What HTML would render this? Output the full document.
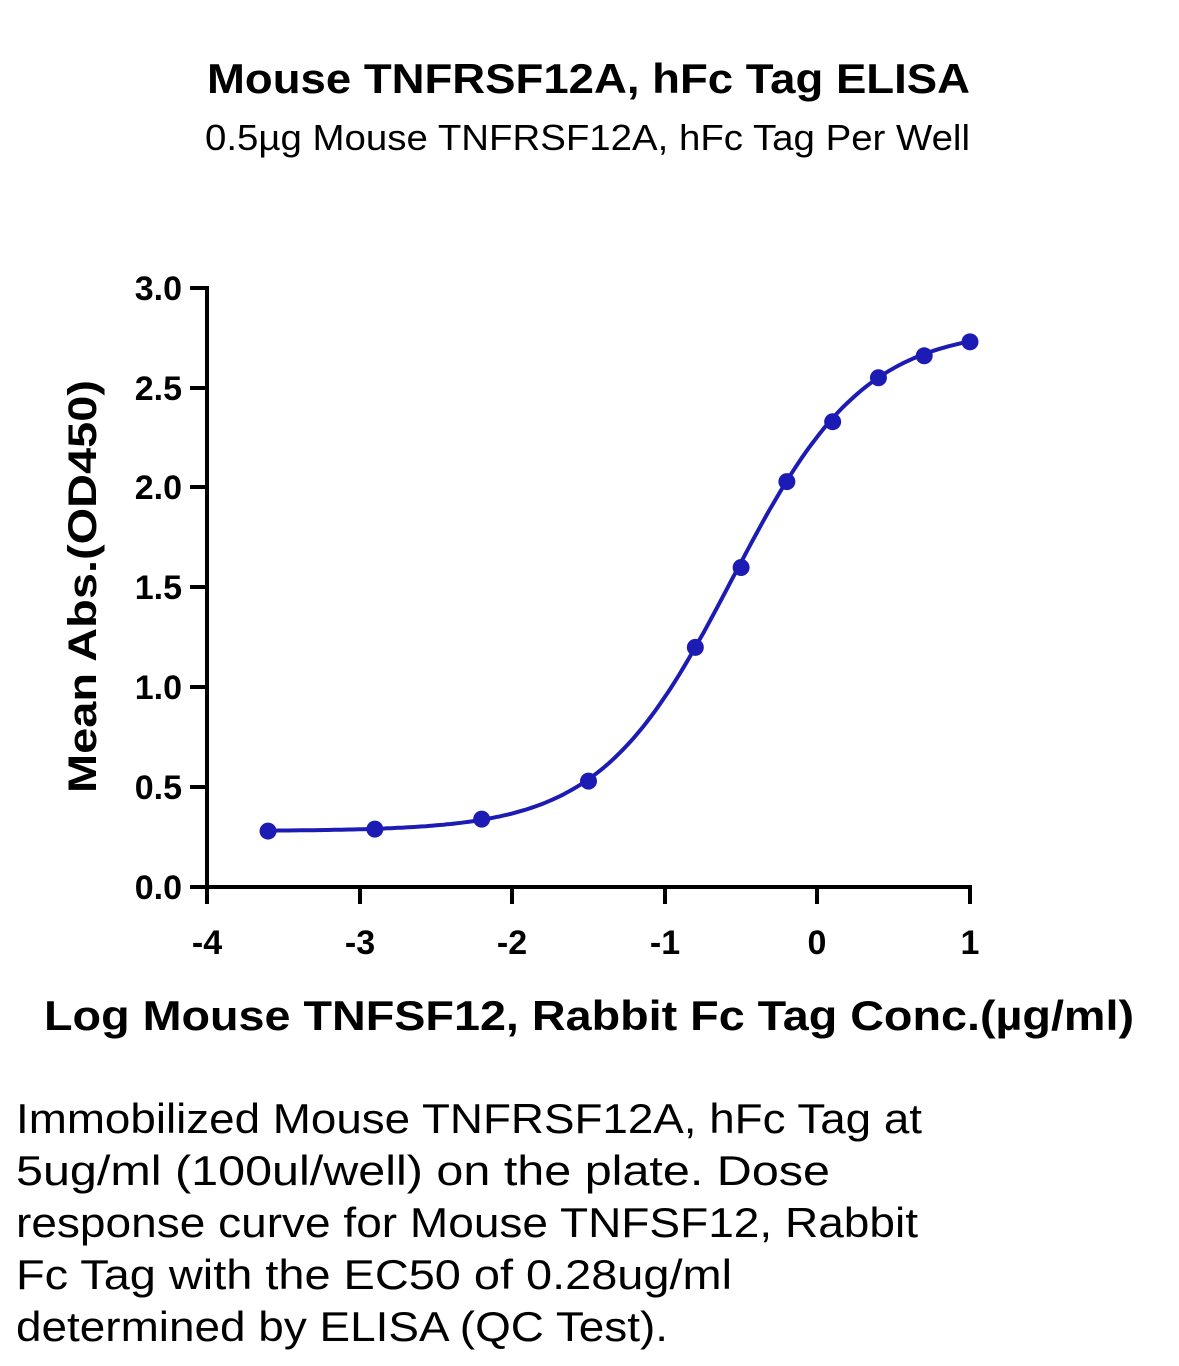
<!DOCTYPE html>
<html><head><meta charset="utf-8"><style>
body{margin:0;width:1179px;height:1366px;background:#fff;font-family:"Liberation Sans",sans-serif;overflow:hidden}
</style></head><body>
<svg width="1179" height="1366" xmlns="http://www.w3.org/2000/svg" style="position:absolute;left:0;top:0">
<text x="207" y="93" textLength="763" lengthAdjust="spacingAndGlyphs" font-size="42" font-weight="bold" font-family="Liberation Sans">Mouse TNFRSF12A, hFc Tag ELISA</text>
<text x="205" y="150" textLength="765" lengthAdjust="spacingAndGlyphs" font-size="36" font-family="Liberation Sans">0.5µg Mouse TNFRSF12A, hFc Tag Per Well</text>
<g stroke="#000" stroke-width="4" fill="none">
<line x1="207" y1="286" x2="207" y2="889"/>
<line x1="205" y1="887" x2="972" y2="887"/>
<line x1="190" y1="288" x2="207" y2="288"/>
<line x1="190" y1="388" x2="207" y2="388"/>
<line x1="190" y1="487" x2="207" y2="487"/>
<line x1="190" y1="587" x2="207" y2="587"/>
<line x1="190" y1="687" x2="207" y2="687"/>
<line x1="190" y1="787" x2="207" y2="787"/>
<line x1="190" y1="887" x2="207" y2="887"/>
<line x1="207" y1="887" x2="207" y2="904"/>
<line x1="360" y1="887" x2="360" y2="904"/>
<line x1="512" y1="887" x2="512" y2="904"/>
<line x1="665" y1="887" x2="665" y2="904"/>
<line x1="817" y1="887" x2="817" y2="904"/>
<line x1="970" y1="887" x2="970" y2="904"/>
</g>
<g font-size="34" font-weight="bold" text-anchor="end" font-family="Liberation Sans">
<text x="182" y="300">3.0</text><text x="182" y="400">2.5</text><text x="182" y="499">2.0</text>
<text x="182" y="599">1.5</text><text x="182" y="699">1.0</text><text x="182" y="799">0.5</text><text x="182" y="899">0.0</text>
</g>
<g font-size="34" font-weight="bold" text-anchor="middle" font-family="Liberation Sans">
<text x="207" y="954">-4</text><text x="360" y="954">-3</text><text x="512" y="954">-2</text>
<text x="665" y="954">-1</text><text x="817" y="954">0</text><text x="970" y="954">1</text>
</g>
<text transform="translate(96,793) rotate(-90)" textLength="413" lengthAdjust="spacingAndGlyphs" font-size="40" font-weight="bold" font-family="Liberation Sans">Mean Abs.(OD450)</text>
<text x="44" y="1030" textLength="1090" lengthAdjust="spacingAndGlyphs" font-size="42" font-weight="bold" font-family="Liberation Sans">Log Mouse TNFSF12, Rabbit Fc Tag Conc.(µg/ml)</text>
<path id="c" fill="none" stroke="#1c1cb4" stroke-width="4"/>
<g id="pts" fill="#1c1cb4"></g>
<g font-size="42" font-family="Liberation Sans" lengthAdjust="spacingAndGlyphs">
<text x="16" y="1133" textLength="906" lengthAdjust="spacingAndGlyphs">Immobilized Mouse TNFRSF12A, hFc Tag at</text>
<text x="16" y="1185" textLength="814" lengthAdjust="spacingAndGlyphs">5ug/ml (100ul/well) on the plate. Dose</text>
<text x="16" y="1237" textLength="902" lengthAdjust="spacingAndGlyphs">response curve for Mouse TNFSF12, Rabbit</text>
<text x="16" y="1289" textLength="716" lengthAdjust="spacingAndGlyphs">Fc Tag with the EC50 of 0.28ug/ml</text>
<text x="16" y="1341" textLength="652" lengthAdjust="spacingAndGlyphs">determined by ELISA (QC Test).</text>
</g>
</svg>
<script>
function X(v){return 207+(v+4)*152.6}
function Y(v){return 887-v*199.7}
function f(x){return 0.28+2.52/(1+Math.pow(10,(-0.56-x)*1.0))}
var d="";
for(var i=0;i<=200;i++){var x=-3.6+4.6*i/200;d+=(i?"L":"M")+X(x).toFixed(1)+","+Y(f(x)).toFixed(1);}
document.getElementById("c").setAttribute("d",d);
var p=[[-3.6,0.28],[-2.9,0.29],[-2.2,0.34],[-1.5,0.53],[-0.8,1.20],[-0.5,1.60],[-0.2,2.03],[0.1,2.33],[0.4,2.55],[0.7,2.66],[1.0,2.73]];
var g=document.getElementById("pts"),s="";
p.forEach(function(q){s+='<circle cx="'+X(q[0])+'" cy="'+Y(q[1])+'" r="8.5"/>';});
g.innerHTML=s;
</script>
</body></html>
